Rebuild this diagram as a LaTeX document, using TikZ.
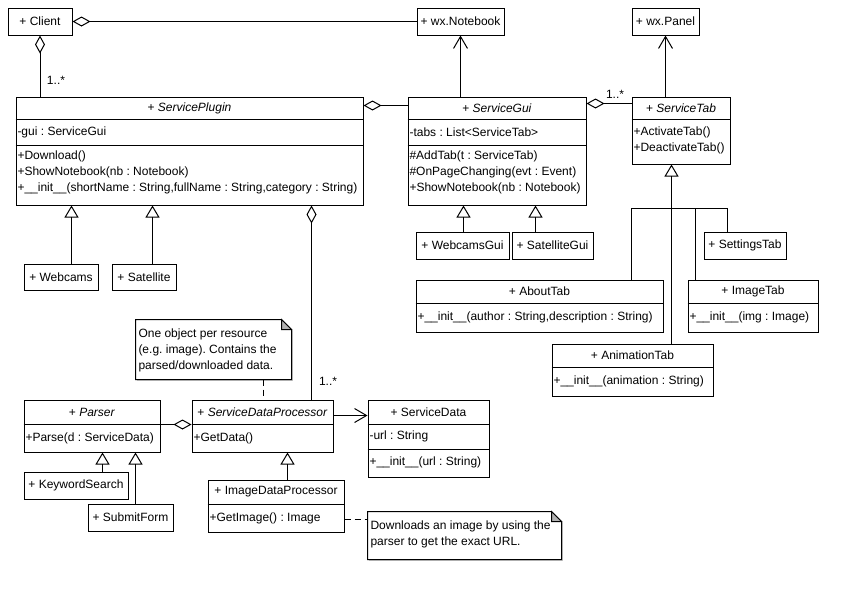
\documentclass[tikz,border=0pt]{standalone}
\usepackage{fontspec}
\setmainfont{Liberation Sans}
\frenchspacing
\usetikzlibrary{arrows.meta,calc,fit,positioning,shadows}

\tikzset{
  cls/.style={draw,fill=white,inner sep=0pt,drop shadow={shadow xshift=1.1pt,shadow yshift=-1.1pt,fill=black!22,opacity=1}},
  notebox/.style={inner sep=0pt},
  member/.style={anchor=west,inner sep=0pt,align=left},
  mult/.style={inner sep=0pt},
  agg/.style={{Diamond[open,length=13.5pt,width=7.5pt]}-},
  gen/.style={-{Triangle[open,length=9pt,width=10.5pt]}},
  nav/.style={-{Straight Barb[length=9pt,width=10.5pt]}},
  dep/.style={dash pattern=on 4.5pt off 3pt}
}

\begin{document}
\begin{tikzpicture}[x=0.75pt,y=-0.75pt,line width=0.75pt,font=\fontsize{9}{12}\selectfont]
\useasboundingbox (0,0) rectangle (848,607);

% top row
\node[cls,fit={(8,8) (72,35)}] (client) {};
\node (clientname) at (client.center) {+ Client};
\node[cls,fit={(417,8) (504,35)}] (notebook) {};
\node (notebookname) at (notebook.center) {+ wx.Notebook};
\node[cls,fit={(632,8) (699,35)}] (panel) {};
\node (panelname) at (panel.center) {+ wx.Panel};

% ServicePlugin
\node[cls,fit={(16,97) (363,205)}] (plugin) {};
\node (pluginname) at (189.5,108) {+ \textit{ServicePlugin}};
\draw (plugin.west |- 0,119) -- (plugin.east |- 0,119);
\draw (plugin.west |- 0,145) -- (plugin.east |- 0,145);
\node[member] (pluginattr) at (17,132) {-gui : ServiceGui};
\node[member] (pluginops) at (17,172) {+Download()\\+ShowNotebook(nb : Notebook)\\+\_\_init\_\_(shortName : String,fullName : String,category : String)};

% ServiceGui
\node[cls,fit={(408,97) (586,205)}] (gui) {};
\node (guiname) at (497,108) {+ \textit{ServiceGui}};
\draw (gui.west |- 0,119) -- (gui.east |- 0,119);
\draw (gui.west |- 0,145) -- (gui.east |- 0,145);
\node[member] (guiattr) at (409,132) {-tabs : List<ServiceTab>};
\node[member] (guiops) at (409,172) {\#AddTab(t : ServiceTab)\\\#OnPageChanging(evt : Event)\\+ShowNotebook(nb : Notebook)};

% ServiceTab
\node[cls,fit={(632,97) (730,164)}] (tab) {};
\node (tabname) at (681,108) {+ \textit{ServiceTab}};
\draw (tab.west |- 0,119) -- (tab.east |- 0,119);
\node[member] (tabops) at (633,140) {+ActivateTab()\\+DeactivateTab()};

% subclasses
\node[cls,fit={(24,264) (98,290)}] (webcams) {};
\node (webcamsname) at (webcams.center) {+ Webcams};
\node[cls,fit={(112,264) (176,290)}] (satellite) {};
\node (satellitename) at (satellite.center) {+ Satellite};
\node[cls,fit={(416,232) (509,259)}] (webcamsgui) {};
\node (webcamsguiname) at (webcamsgui.center) {+ WebcamsGui};
\node[cls,fit={(512,232) (593,259)}] (satellitegui) {};
\node (satelliteguiname) at (satellitegui.center) {+ SatelliteGui};
\node[cls,fit={(704,232) (786,259)}] (settings) {};
\node (settingsname) at (settings.center) {+ SettingsTab};

\node[cls,fit={(416,280) (663,332)}] (about) {};
\node (aboutname) at (539.5,291.5) {+ AboutTab};
\draw (about.west |- 0,303) -- (about.east |- 0,303);
\node[member] (aboutops) at (417,317) {+\_\_init\_\_(author : String,description : String)};

\node[cls,fit={(688,280) (818,332)}] (imagetab) {};
\node (imagetabname) at (753,291.5) {+ ImageTab};
\draw (imagetab.west |- 0,303) -- (imagetab.east |- 0,303);
\node[member] (imagetabops) at (689,317) {+\_\_init\_\_(img : Image)};

\node[cls,fit={(552,344) (713,396)}] (anim) {};
\node (animname) at (632.5,355.5) {+ AnimationTab};
\draw (anim.west |- 0,367) -- (anim.east |- 0,367);
\node[member] (animops) at (553,381) {+\_\_init\_\_(animation : String)};

% data processing
\node[cls,fit={(24,400) (160,452)}] (parser) {};
\node (parsername) at (92,412) {+ \textit{Parser}};
\draw (parser.west |- 0,424) -- (parser.east |- 0,424);
\node[member] (parserops) at (25,438) {+Parse(d : ServiceData)};

\node[cls,fit={(192,400) (333,452)}] (sdp) {};
\node (sdpname) at (262.5,412) {+ \textit{ServiceDataProcessor}};
\draw (sdp.west |- 0,424) -- (sdp.east |- 0,424);
\node[member] (sdpops) at (193,438) {+GetData()};

\node[cls,fit={(368,400) (489,477)}] (servicedata) {};
\node (servicedataname) at (428.5,412) {+ ServiceData};
\draw (servicedata.west |- 0,424) -- (servicedata.east |- 0,424);
\draw (servicedata.west |- 0,449) -- (servicedata.east |- 0,449);
\node[member] (servicedataattr) at (369,436.5) {-url : String};
\node[member] (servicedataops) at (369,462) {+\_\_init\_\_(url : String)};

\node[cls,fit={(24,472) (128,499)}] (keyword) {};
\node (keywordname) at (keyword.center) {+ KeywordSearch};
\node[cls,fit={(88,504) (173,531)}] (submit) {};
\node (submitname) at (submit.center) {+ SubmitForm};

\node[cls,fit={(208,480) (344,532)}] (idp) {};
\node (idpname) at (276,492) {+ ImageDataProcessor};
\draw (idp.west |- 0,504) -- (idp.east |- 0,504);
\node[member] (idpops) at (209,518) {+GetImage() : Image};

% notes
\node[notebox,fit={(136,320) (291,379)}] (note1) {};
\draw[fill=white,drop shadow={shadow xshift=1.1pt,shadow yshift=-1.1pt,fill=black!22,opacity=1}] (note1.south west) -- (note1.north west) -- ($(note1.north east)+(-10,0)$) -- ($(note1.north east)+(0,10)$) -- (note1.south east) -- cycle;
\filldraw[fill=black!30] ($(note1.north east)+(-10,0)$) -- ($(note1.north east)+(-10,10)$) -- ($(note1.north east)+(0,10)$) -- cycle;
\node[member] (note1text) at (138,350) {One object per resource\\(e.g. image). Contains the\\parsed/downloaded data.};

\node[notebox,fit={(368,512) (561,559)}] (note2) {};
\draw[fill=white,drop shadow={shadow xshift=1.1pt,shadow yshift=-1.1pt,fill=black!22,opacity=1}] (note2.south west) -- (note2.north west) -- ($(note2.north east)+(-10,0)$) -- ($(note2.north east)+(0,10)$) -- (note2.south east) -- cycle;
\filldraw[fill=black!30] ($(note2.north east)+(-10,0)$) -- ($(note2.north east)+(-10,10)$) -- ($(note2.north east)+(0,10)$) -- cycle;
\node[member] (note2text) at (370,534) {Downloads an image by using the\\parser to get the exact URL.};

% associations
\draw[agg] (client.east) -- (notebook.west);
\draw[agg] (client.south) -- (client.south |- plugin.north);
\node[mult] (m1) at (56,80) {1..*};
\draw[agg] ($(plugin.north east)+(0,9)$) -- ($(gui.north west)+(0,9)$);
\draw[nav] (notebook.south |- gui.north) -- (notebook.south);
\draw[agg] ($(gui.north east)+(0,7)$) -- ($(tab.north west)+(0,7)$);
\node[mult] (m2) at (615,94) {1..*};
\draw[nav] (panel.south |- tab.north) -- (panel.south);

% generalisations
\coordinate (webcamsup) at ($(webcams.north west)+(48,0)$);
\coordinate (satelliteup) at ($(satellite.north west)+(41,0)$);
\draw[gen] (webcamsup) -- (webcamsup |- plugin.south);
\draw[gen] (satelliteup) -- (satelliteup |- plugin.south);
\coordinate (webcamsguiup) at ($(webcamsgui.north west)+(48,0)$);
\coordinate (satelliteguiup) at ($(satellitegui.north west)+(24,0)$);
\draw[gen] (webcamsguiup) -- (webcamsguiup |- gui.south);
\draw[gen] (satelliteguiup) -- (satelliteguiup |- gui.south);

\coordinate (tabhub) at ($(tab.south west)+(40,44)$);
\coordinate (animup) at ($(anim.north west)+(120,0)$);
\coordinate (aboutup) at ($(about.north west)+(216,0)$);
\coordinate (imageup) at ($(imagetab.north west)+(8,0)$);
\coordinate (settingsup) at ($(settings.north west)+(24,0)$);
\draw[gen] (animup) -- (tab.south -| animup);
\draw (aboutup) -- (aboutup |- tabhub) -- (settingsup |- tabhub) -- (settingsup);
\draw (imageup) -- (imageup |- tabhub);

% processor
\coordinate (sdpup) at ($(sdp.north west)+(120,0)$);
\draw[agg] (plugin.south -| sdpup) -- (sdpup);
\node[mult] (m3) at (328,381) {1..*};
\draw[agg] ($(sdp.north west)+(0,25)$) -- ($(parser.north east)+(0,25)$);
\draw[nav] ($(sdp.north east)+(0,16)$) -- ($(servicedata.north west)+(0,16)$);
\coordinate (keywordup) at ($(keyword.north west)+(79,0)$);
\coordinate (submitup) at ($(submit.north west)+(48,0)$);
\draw[gen] (keywordup) -- (keywordup |- parser.south);
\draw[gen] (submitup) -- (submitup |- parser.south);
\coordinate (idpup) at ($(idp.north west)+(80,0)$);
\draw[gen] (idpup) -- (idpup |- sdp.south);

% note links
\coordinate (note1foot) at ($(note1.south west)+(128,0)$);
\draw[dep] (note1foot) -- (note1foot |- sdp.north);
\draw[dep] ($(idp.north east)+(0,40)$) -- ($(note2.north west)+(0,8)$);
\end{tikzpicture}
\end{document}
